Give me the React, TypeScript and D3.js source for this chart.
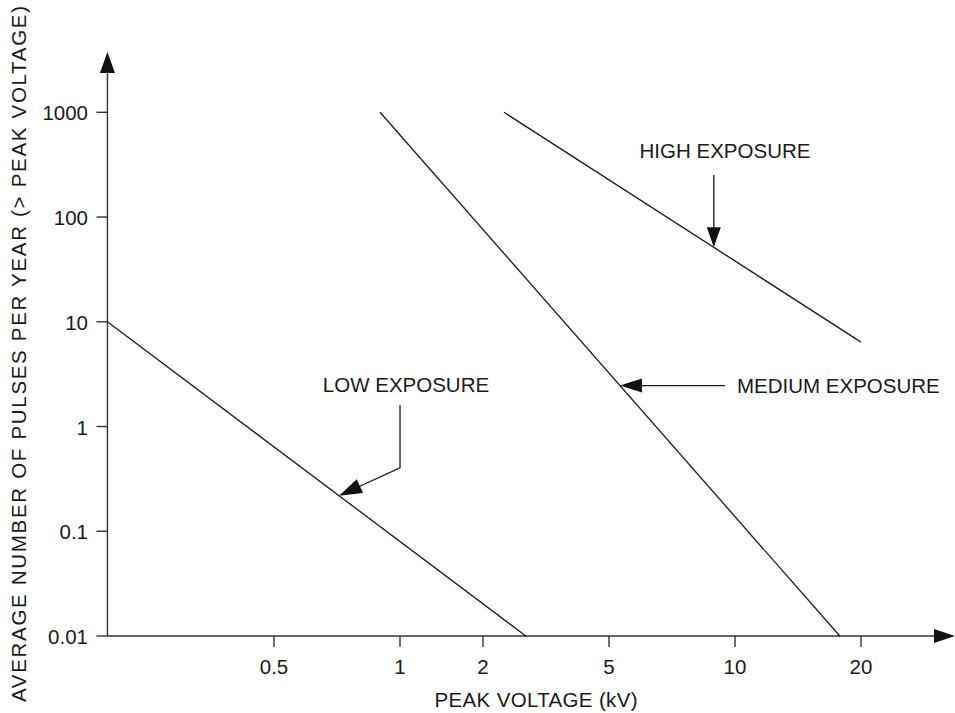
import React from "react";
import * as d3 from "d3";

// ---- data ----
const xTickValues = [0.5, 1, 2, 5, 10, 20];
const xTickLabels = ["0.5", "1", "2", "5", "10", "20"];
const yTickValues = [0.01, 0.1, 1, 10, 100, 1000];
const yTickLabels = ["0.01", "0.1", "1", "10", "100", "1000"];

const lowVoltage = [0.2, 2.73];
const lowPulses = [10, 0.01];
const mediumVoltage = [0.896, 17.8];
const mediumPulses = [1000, 0.01];
const highVoltage = [2.33, 20];
const highPulses = [1000, 6.4];

const xAxisStart = 0.2;
const lowArrowAt = 0.715;
const mediumArrowAt = 5.31;
const highArrowAt = 8.9;

const W = 955;
const H = 713;
const FONT = "'Liberation Sans', Arial, Helvetica, sans-serif";
const FS = 20.5;
const AXIS = "#333";
const INK = "#1a1a1a";

const xScale = d3
  .scaleLog()
  .domain(xTickValues)
  .range([274, 400, 483, 609, 735, 861]);
const yScale = d3.scaleLog().domain([0.01, 1000]).range([636, 112.3]);

type Pt = [number, number];

function linePts(vs: number[], ps: number[]): Pt[] {
  return vs.map((v, i) => [xScale(v), yScale(ps[i])] as Pt);
}

function pointOn(pts: Pt[], v: number): Pt {
  const x = xScale(v);
  const [a, b] = pts;
  const t = (x - a[0]) / (b[0] - a[0]);
  return [x, a[1] + t * (b[1] - a[1])];
}

function head(tip: Pt, from: Pt, len = 21, half = 7): string {
  const dx = tip[0] - from[0];
  const dy = tip[1] - from[1];
  const d = Math.hypot(dx, dy);
  const ux = dx / d;
  const uy = dy / d;
  const bx = tip[0] - ux * len;
  const by = tip[1] - uy * len;
  const p1 = [bx - uy * half, by + ux * half];
  const p2 = [bx + uy * half, by - ux * half];
  return `${tip[0]},${tip[1]} ${p1[0]},${p1[1]} ${p2[0]},${p2[1]}`;
}

export default function App() {
  const line = d3.line<Pt>();
  const low = linePts(lowVoltage, lowPulses);
  const med = linePts(mediumVoltage, mediumPulses);
  const high = linePts(highVoltage, highPulses);

  const x0 = xScale(xAxisStart);
  const y0 = yScale(0.01);

  const lowTip = pointOn(low, lowArrowAt);
  const lowElbow: Pt = [lowTip[0] + 61, lowTip[1] - 28];
  const lowTop: Pt = [lowElbow[0], 405];

  const medTip = pointOn(med, mediumArrowAt);
  const medTail: Pt = [725, medTip[1]];

  const highTip = pointOn(high, highArrowAt);
  const highTail: Pt = [highTip[0], 175];

  return (
    <svg
      width={W}
      height={H}
      style={{ position: "absolute", left: 0, top: 0, background: "#fff" }}
      fontFamily={FONT}
    >
      {/* axes */}
      <line x1={x0} y1={y0} x2={x0} y2={70} stroke={AXIS} strokeWidth={1.4} />
      <polygon points={head([x0, 52], [x0, 100], 21, 7.5)} fill="#111" />
      <line x1={x0} y1={y0} x2={937} y2={y0} stroke={AXIS} strokeWidth={1.4} />
      <polygon points={head([955, y0], [900, y0], 21, 7)} fill="#111" />

      {/* y ticks */}
      {yTickValues.map((v, i) => (
        <g key={"y" + i}>
          <line x1={x0 - 11} x2={x0} y1={yScale(v)} y2={yScale(v)} stroke={AXIS} strokeWidth={1.4} />
          <text x={88} y={yScale(v) + 8} textAnchor="end" fontSize={FS} fill={INK}>
            {yTickLabels[i]}
          </text>
        </g>
      ))}

      {/* x ticks */}
      {xTickValues.map((v, i) => (
        <g key={"x" + i}>
          <line x1={xScale(v)} x2={xScale(v)} y1={y0} y2={y0 + 11} stroke={AXIS} strokeWidth={1.4} />
          <text x={xScale(v)} y={674} textAnchor="middle" fontSize={FS} fill={INK}>
            {xTickLabels[i]}
          </text>
        </g>
      ))}

      {/* axis titles */}
      <text x={536} y={707} textAnchor="middle" fontSize={FS} fill={INK} textLength={203} lengthAdjust="spacing">
        PEAK VOLTAGE (kV)
      </text>
      <text
        transform="translate(26,354) rotate(-90)"
        textAnchor="middle"
        fontSize={FS}
        fill={INK}
        textLength={696}
        lengthAdjust="spacing"
      >
        AVERAGE NUMBER OF PULSES PER YEAR (&gt; PEAK VOLTAGE)
      </text>

      {/* series lines */}
      <path d={line(low) || ""} stroke={INK} strokeWidth={1.3} fill="none" />
      <path d={line(med) || ""} stroke={INK} strokeWidth={1.3} fill="none" />
      <path d={line(high) || ""} stroke={INK} strokeWidth={1.3} fill="none" />

      {/* annotations */}
      <text x={725} y={158} textAnchor="middle" fontSize={FS} fill={INK}>
        HIGH EXPOSURE
      </text>
      <line x1={highTail[0]} y1={highTail[1]} x2={highTip[0]} y2={highTip[1] - 15} stroke={INK} strokeWidth={1.3} />
      <polygon points={head(highTip, highTail, 20, 7)} fill="#111" />

      <text x={737} y={393} fontSize={FS} fill={INK}>
        MEDIUM EXPOSURE
      </text>
      <line x1={medTail[0]} y1={medTail[1]} x2={medTip[0] + 15} y2={medTip[1]} stroke={INK} strokeWidth={1.3} />
      <polygon points={head(medTip, medTail, 22, 7)} fill="#111" />

      <text x={406} y={392} textAnchor="middle" fontSize={FS} fill={INK}>
        LOW EXPOSURE
      </text>
      <polyline
        points={`${lowTop[0]},${lowTop[1]} ${lowElbow[0]},${lowElbow[1]} ${lowTip[0] + 12},${lowTip[1] - 5.5}`}
        stroke={INK}
        strokeWidth={1.3}
        fill="none"
      />
      <polygon points={head(lowTip, lowElbow, 23, 7.5)} fill="#111" />
    </svg>
  );
}
